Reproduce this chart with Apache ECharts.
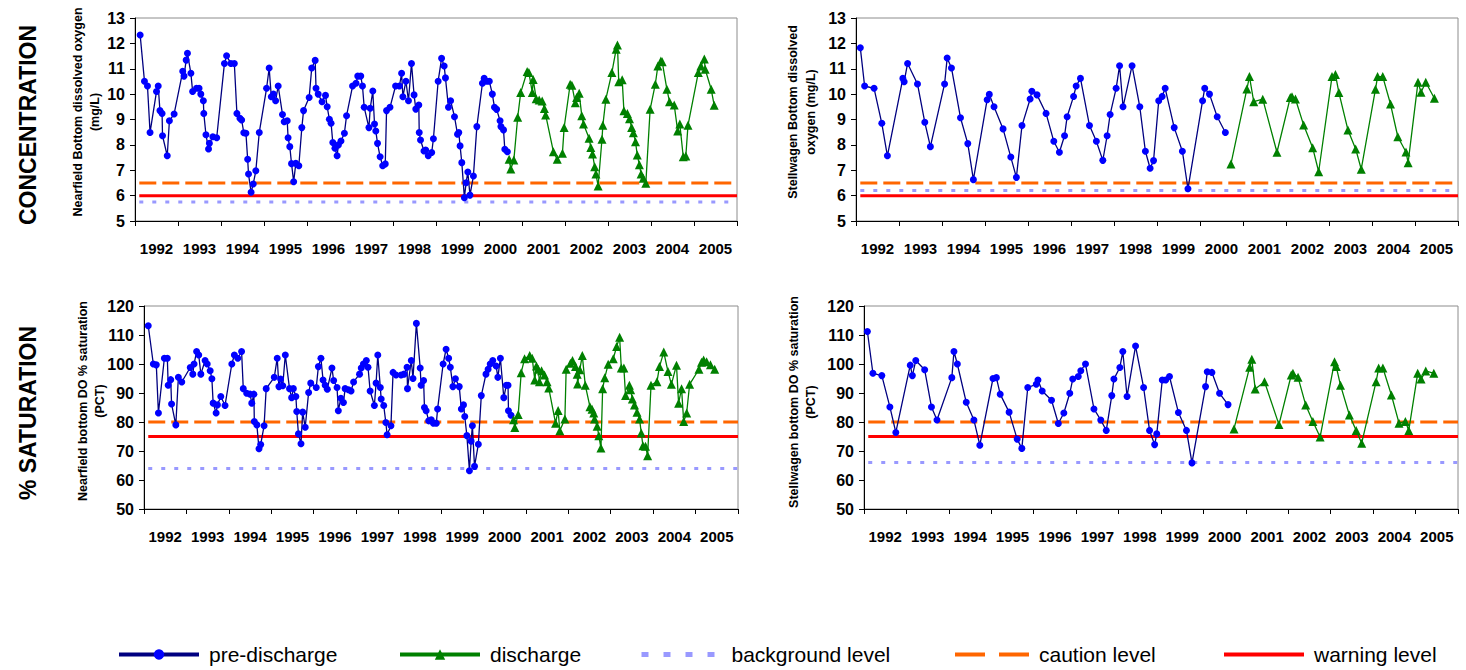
<!DOCTYPE html>
<html><head><meta charset="utf-8">
<script src="https://cdn.jsdelivr.net/npm/echarts@6/dist/echarts.min.js"></script>
<style>html,body{margin:0;padding:0;background:#fff;}#chart{width:1466px;height:670px;}</style>
</head><body><div id="chart"></div>
<script>
// ---------- tick labels ----------
const yearLabels = ['1992','1993','1994','1995','1996','1997','1998','1999','2000','2001','2002','2003','2004','2005'];

// ---------- Nearfield concentration (mg/L) ----------
const nfConcPreYears = [1992.12,1992.22,1992.29,1992.35,1992.50,1992.54,1992.58,1992.63,1992.64,1992.75,1992.80,1992.91,
1993.11,1993.14,1993.19,1993.22,1993.30,1993.34,1993.43,1993.49,1993.53,1993.59,1993.60,1993.65,1993.71,1993.73,1993.81,1993.90,
1994.08,1994.13,1994.23,1994.31,1994.37,1994.44,1994.48,1994.53,1994.58,1994.62,1994.64,1994.70,1994.75,1994.81,1994.89,
1995.06,1995.12,1995.17,1995.22,1995.27,1995.33,1995.43,1995.47,1995.54,1995.56,1995.60,1995.64,1995.69,1995.74,1995.81,1995.88,1995.92,
1996.05,1996.11,1996.19,1996.21,1996.26,1996.35,1996.43,1996.47,1996.52,1996.56,1996.60,1996.65,1996.70,1996.73,1996.79,1996.87,1996.92,
1997.06,1997.14,1997.18,1997.25,1997.29,1997.33,1997.44,1997.47,1997.53,1997.57,1997.60,1997.64,1997.70,1997.76,1997.82,1997.85,1997.93,
1998.06,1998.15,1998.20,1998.23,1998.30,1998.36,1998.43,1998.49,1998.53,1998.60,1998.61,1998.64,1998.72,1998.76,1998.82,1998.90,1998.94,
1999.05,1999.13,1999.19,1999.22,1999.29,1999.34,1999.43,1999.50,1999.53,1999.56,1999.60,1999.66,1999.70,1999.74,1999.79,1999.87,1999.95,
2000.08,2000.12,2000.18,2000.24,2000.31,2000.36,2000.41,2000.49,2000.51,2000.57,2000.60,2000.66];
const nfConcPreValues = [12.33,10.51,10.32,8.49,10.10,10.32,9.35,9.24,8.36,7.57,8.95,9.22,
10.90,10.71,11.34,11.61,10.82,10.10,10.23,10.23,10.00,9.74,9.24,8.40,7.84,8.06,8.32,8.28,
11.21,11.51,11.21,11.21,9.24,9.05,8.98,8.48,8.46,7.43,6.85,6.13,6.46,6.98,8.49,
10.23,11.03,9.90,10.00,9.74,10.32,9.20,8.91,8.95,8.28,7.93,7.26,6.55,7.27,7.18,8.68,9.35,
9.87,11.03,11.33,10.23,10.00,9.70,9.95,9.50,9.01,8.85,8.09,7.87,7.57,8.00,8.15,8.46,9.15,
10.32,10.43,10.71,10.71,10.32,9.48,8.68,9.44,10.12,8.82,8.55,8.06,7.53,7.18,7.25,9.35,9.48,
10.32,10.32,10.82,9.90,10.51,9.74,11.21,9.97,9.41,9.57,8.49,8.19,7.76,7.80,7.57,7.70,8.24,
10.51,11.41,11.11,10.64,9.48,9.74,9.11,8.42,8.49,7.96,7.30,5.92,6.51,6.93,6.02,6.77,8.72,
10.43,10.62,10.51,10.51,10.00,9.48,9.40,8.95,8.72,8.59,7.83,7.73];
const nfConcDisYears = [2000.70,2000.74,2000.81,2000.90,2000.97,
2001.12,2001.16,2001.24,2001.26,2001.33,2001.40,2001.47,2001.52,2001.55,2001.73,2001.82,2001.94,2001.98,
2002.12,2002.16,2002.24,2002.27,2002.33,2002.39,2002.43,2002.56,2002.60,2002.64,2002.69,2002.72,2002.77,2002.86,2002.88,2002.95,
2003.09,2003.19,2003.22,2003.25,2003.33,2003.37,2003.45,2003.50,2003.55,2003.59,2003.64,2003.68,2003.73,2003.77,2003.82,2003.88,2003.98,
2004.10,2004.16,2004.23,2004.26,2004.37,2004.43,2004.54,2004.62,2004.67,2004.75,2004.81,2004.86,
2005.10,2005.16,2005.24,2005.26,2005.40,2005.47];
const nfConcDisValues = [7.43,7.05,7.40,9.09,10.06,
10.89,10.85,10.06,10.58,9.82,9.77,9.73,9.43,9.18,7.73,7.43,7.67,8.68,
10.39,10.35,9.66,9.87,10.03,9.15,8.82,8.26,7.90,7.64,7.14,6.85,6.38,8.22,8.77,9.80,
10.85,11.77,11.94,10.49,10.57,9.34,9.24,9.03,8.68,8.48,8.12,7.60,7.22,6.85,6.68,6.49,9.40,
10.39,11.11,11.31,11.28,10.19,9.70,9.57,8.55,8.82,7.53,7.56,8.77,
10.85,11.11,11.38,10.98,10.19,9.56];

// ---------- Stellwagen concentration (mg/L) ----------
const swConcPreYears = [1992.10,1992.20,1992.42,1992.60,1992.73,
1993.09,1993.12,1993.20,1993.43,1993.60,1993.73,
1994.06,1994.12,1994.22,1994.43,1994.60,1994.73,
1995.05,1995.10,1995.21,1995.42,1995.60,1995.73,1995.86,
1996.05,1996.09,1996.21,1996.42,1996.60,1996.73,1996.85,1996.91,
1997.06,1997.12,1997.22,1997.43,1997.59,1997.74,1997.84,1997.91,
1998.05,1998.13,1998.21,1998.42,1998.60,1998.73,1998.84,1998.92,
1999.04,1999.12,1999.19,1999.40,1999.59,1999.72,
2000.06,2000.11,2000.22,2000.40,2000.59];
const swConcPreValues = [11.83,10.32,10.23,8.85,7.57,
10.62,10.49,11.21,10.40,8.89,7.93,
10.40,11.42,11.03,9.07,8.05,6.63,
9.78,9.99,9.50,8.63,7.52,6.72,8.76,
9.81,10.11,9.97,9.24,8.14,7.71,8.36,9.11,
9.91,10.32,10.62,8.76,8.14,7.39,8.36,9.20,
10.23,11.12,9.50,11.12,9.50,7.75,7.08,7.38,
9.74,9.91,10.23,8.68,7.75,6.27,
9.74,10.23,10.00,9.11,8.49];
const swConcDisYears = [2000.72,
2001.09,2001.15,2001.25,2001.46,2001.79,
2002.10,2002.14,2002.22,2002.41,2002.62,2002.76,
2003.07,2003.15,2003.23,2003.44,2003.62,2003.75,
2004.08,2004.13,2004.25,2004.43,2004.60,2004.79,2004.84,
2005.07,2005.14,2005.25,2005.45];
const swConcDisValues = [7.25,
10.20,10.69,9.70,9.80,7.71,
9.87,9.90,9.81,8.78,7.89,6.94,
10.69,10.77,10.06,8.59,7.84,7.04,
10.19,10.69,10.69,9.61,8.32,7.72,7.30,
10.47,10.07,10.47,9.84];

// ---------- Nearfield % saturation ----------
const nfSatPreYears = [1992.10,1992.22,1992.29,1992.34,1992.48,1992.55,1992.57,1992.63,1992.65,1992.75,1992.81,1992.89,
1993.09,1993.15,1993.18,1993.24,1993.29,1993.34,1993.44,1993.49,1993.56,1993.60,1993.63,1993.70,1993.73,1993.81,1993.91,
1994.07,1994.13,1994.21,1994.30,1994.34,1994.42,1994.50,1994.54,1994.59,1994.60,1994.66,1994.71,1994.75,1994.83,1994.88,
1995.07,1995.14,1995.18,1995.22,1995.27,1995.33,1995.43,1995.48,1995.52,1995.58,1995.60,1995.64,1995.70,1995.74,1995.80,1995.88,1995.93,
1996.06,1996.11,1996.17,1996.22,1996.27,1996.32,1996.43,1996.47,1996.55,1996.58,1996.64,1996.70,1996.74,1996.82,1996.88,1996.94,
1997.08,1997.12,1997.17,1997.24,1997.28,1997.33,1997.43,1997.47,1997.51,1997.57,1997.59,1997.65,1997.70,1997.73,1997.82,1997.87,1997.94,
1998.06,1998.13,1998.20,1998.21,1998.30,1998.34,1998.42,1998.51,1998.53,1998.59,1998.61,1998.65,1998.71,1998.77,1998.82,1998.89,1998.92,
1999.05,1999.12,1999.18,1999.22,1999.28,1999.34,1999.43,1999.48,1999.53,1999.56,1999.61,1999.67,1999.71,1999.74,1999.79,1999.88,1999.95,
2000.06,2000.11,2000.16,2000.22,2000.30,2000.34,2000.40,2000.48,2000.54,2000.58,2000.59,2000.65];
const nfSatPreValues = [113.2,100.0,99.7,83.1,102.0,102.0,92.7,94.6,86.2,79.0,95.4,93.8,
98.8,96.5,100.0,104.3,103.1,96.5,101.2,100.0,97.7,94.9,86.5,83.1,85.9,88.8,85.7,
100.0,103.1,102.0,104.3,91.5,89.9,89.6,86.5,89.6,80.2,79.0,70.8,72.2,78.7,91.5,
95.4,102.0,92.2,94.8,92.5,103.1,91.5,88.4,91.5,88.8,83.6,75.9,72.5,83.4,78.2,90.2,93.4,
91.9,99.1,102.0,94.5,92.7,91.3,98.6,94.3,91.9,83.9,88.2,86.7,91.5,91.1,90.7,93.8,
96.5,98.6,100.0,101.2,98.9,90.7,85.7,93.4,103.1,91.9,87.9,85.7,79.8,75.6,78.7,97.1,96.2,
96.2,96.5,98.9,91.5,101.2,95.0,114.0,98.6,92.7,94.3,85.0,83.9,80.4,80.8,79.6,79.6,84.5,
100.0,105.1,102.0,98.9,92.2,94.9,92.2,84.5,85.9,81.9,75.3,63.2,73.4,78.7,64.7,72.3,89.1,
96.5,98.2,100.0,101.2,99.3,95.4,102.0,88.4,92.7,92.7,83.9,82.3];
const nfSatDisYears = [2000.71,2000.74,2000.82,2000.89,2000.97,
2001.09,2001.15,2001.21,2001.25,2001.29,2001.32,2001.37,2001.44,2001.50,2001.54,2001.70,2001.76,2001.80,2001.92,2001.95,
2002.05,2002.10,2002.17,2002.21,2002.22,2002.27,2002.33,2002.40,2002.51,2002.56,2002.60,2002.62,2002.68,2002.72,2002.77,2002.81,2002.86,2002.94,
2003.06,2003.14,2003.21,2003.25,2003.31,2003.35,2003.44,2003.47,2003.51,2003.56,2003.62,2003.68,2003.72,2003.76,2003.82,2003.87,2003.95,
2004.09,2004.15,2004.25,2004.35,2004.43,2004.55,2004.60,2004.67,2004.72,2004.79,2004.86,
2005.08,2005.14,2005.19,2005.26,2005.35,2005.45];
const nfSatDisValues = [80.8,78.1,82.6,97.0,101.8,
102.9,102.0,94.5,99.3,98.2,93.9,97.7,96.2,93.9,91.7,79.6,84.0,77.0,81.0,98.2,
100.3,101.2,99.1,96.5,93.1,98.0,102.9,92.7,85.3,84.4,83.1,81.0,78.5,75.3,71.0,91.5,95.3,99.9,
101.8,106.0,109.2,98.6,98.6,89.1,92.7,91.1,87.9,85.9,83.4,81.0,76.2,71.8,71.6,68.4,92.7,
93.9,99.1,104.1,97.4,93.0,99.6,86.5,91.5,80.2,83.1,93.0,
98.2,100.6,101.4,100.8,99.7,98.2];

// ---------- Stellwagen % saturation ----------
const swSatPreYears = [1992.08,1992.21,1992.42,1992.61,1992.75,
1993.09,1993.14,1993.22,1993.43,1993.59,1993.72,
1994.07,1994.12,1994.20,1994.41,1994.59,1994.73,
1995.04,1995.12,1995.21,1995.42,1995.61,1995.72,1995.86,
1996.06,1996.10,1996.20,1996.42,1996.58,1996.71,1996.85,1996.92,
1997.05,1997.11,1997.22,1997.42,1997.58,1997.71,1997.84,1997.89,
1998.03,1998.10,1998.20,1998.40,1998.59,1998.73,1998.85,1998.90,
1999.03,1999.11,1999.20,1999.41,1999.60,1999.73,
2000.05,2000.09,2000.20,2000.38,2000.58];
const swSatPreValues = [111.2,96.8,96.0,85.2,76.4,
99.6,96.0,101.2,98.0,85.2,80.7,
95.3,104.3,100.0,86.8,80.7,72.0,
95.0,95.3,89.6,83.4,74.1,70.9,91.9,
93.0,94.5,90.7,87.5,79.5,83.1,89.9,94.8,
95.7,97.7,100.0,84.5,80.7,77.1,89.1,94.8,
98.8,104.3,88.8,106.2,91.9,77.1,72.2,75.9,
94.5,94.5,95.7,83.3,77.1,65.9,
92.2,97.3,97.1,89.9,86.0];
const swSatDisYears = [2000.72,
2001.09,2001.14,2001.22,2001.44,2001.78,
2002.07,2002.11,2002.23,2002.41,2002.58,2002.75,
2003.09,2003.13,2003.23,2003.44,2003.60,2003.73,
2004.07,2004.13,2004.23,2004.43,2004.61,2004.76,2004.84,
2005.05,2005.13,2005.24,2005.43];
const swSatDisValues = [77.6,
98.9,101.6,91.4,93.9,79.1,
96.2,96.8,95.4,85.9,80.2,74.8,
100.8,99.1,92.7,82.4,77.1,72.7,
93.9,98.6,98.6,89.3,79.6,80.2,77.1,
96.8,94.8,97.6,96.8];

// ---------- reference levels: [background, caution, warning] ----------
const levelNames = ['background level', 'caution level', 'warning level'];
const nfConcLevels = [5.75, 6.5, 6.0];
const swConcLevels = [6.2, 6.5, 6.0];
const nfSatLevels = [64, 80, 75];
const swSatLevels = [66, 80, 75];
const levelSpan = [1992.1, 2006];

// ---------- build chart ----------
const FONT = '"Liberation Sans", Arial, sans-serif';
const pairs = (xs, ys) => xs.map((x, i) => [x, ys[i]]);

const grids = [
  {left: 135, top: 18, width: 602, height: 203},
  {left: 856, top: 18, width: 602, height: 203},
  {left: 144, top: 306, width: 594, height: 203},
  {left: 864, top: 306, width: 594, height: 203}
].map(g => Object.assign(g, {show: true, borderColor: '#8c8c8c', borderWidth: 1, containLabel: false, outerBoundsMode: 'none'}));

const yRanges = [[5, 13, 1], [5, 13, 1], [50, 120, 10], [50, 120, 10]];
const panels = [
  {pre: pairs(nfConcPreYears, nfConcPreValues), dis: pairs(nfConcDisYears, nfConcDisValues), levels: nfConcLevels},
  {pre: pairs(swConcPreYears, swConcPreValues), dis: pairs(swConcDisYears, swConcDisValues), levels: swConcLevels},
  {pre: pairs(nfSatPreYears, nfSatPreValues), dis: pairs(nfSatDisYears, nfSatDisValues), levels: nfSatLevels},
  {pre: pairs(swSatPreYears, swSatPreValues), dis: pairs(swSatDisYears, swSatDisValues), levels: swSatLevels}
];

const blackLine = {show: true, lineStyle: {color: '#000', width: 1}};
const xAxes = [];
const yAxes = [];
grids.forEach((g, i) => {
  xAxes.push({type: 'value', gridIndex: i, min: 1992, max: 2006, interval: 1,
    axisLine: blackLine, axisTick: {show: true, length: 5, inside: false, lineStyle: {color: '#000'}},
    axisLabel: {show: false}, splitLine: {show: false}});
  yAxes.push({type: 'value', gridIndex: i, min: yRanges[i][0], max: yRanges[i][1], interval: yRanges[i][2],
    axisLine: blackLine, axisTick: {show: true, length: 5, inside: false, lineStyle: {color: '#000'}},
    axisLabel: {margin: 10, color: '#000', fontSize: 16, fontWeight: 'bold', fontFamily: FONT},
    splitLine: {show: false}});
});
grids.forEach((g, i) => {
  xAxes.push({type: 'category', gridIndex: i, data: yearLabels, boundaryGap: true, position: 'bottom',
    axisLine: {show: false}, axisTick: {show: false}, splitLine: {show: false},
    axisLabel: {interval: 0, margin: 20, color: '#000', fontSize: 15, fontWeight: 'bold', fontFamily: FONT}});
});

const levelStyles = [
  {color: '#9999ff', width: 3, type: [4, 9]},
  {color: '#ff6600', width: 3, type: [17, 6]},
  {color: '#ff0000', width: 3, type: 'solid'}
];

const series = [];
panels.forEach((p, i) => {
  levelNames.forEach((name, k) => {
    series.push({name, type: 'line', xAxisIndex: i, yAxisIndex: i, symbol: 'none', silent: true, z: 2,
      data: levelSpan.map(x => [x, p.levels[k]]),
      lineStyle: levelStyles[k], itemStyle: {color: levelStyles[k].color}});
  });
});
panels.forEach((p, i) => {
  series.push({name: 'pre-discharge', type: 'line', xAxisIndex: i, yAxisIndex: i, data: p.pre, z: 3,
    symbol: 'circle', symbolSize: 7, showAllSymbol: true,
    lineStyle: {color: '#000080', width: 1.3}, itemStyle: {color: '#0000ff'}});
  series.push({name: 'discharge', type: 'line', xAxisIndex: i, yAxisIndex: i, data: p.dis, z: 3,
    symbol: 'triangle', symbolSize: 9, showAllSymbol: true,
    lineStyle: {color: '#008000', width: 1.3}, itemStyle: {color: '#008000'}});
});

const legendText = {fontSize: 21, color: '#000', fontFamily: FONT, padding: [0, 0, 0, 5]};
const legendBase = {top: 644, padding: 0, itemHeight: 13, selectedMode: false, textStyle: legendText};
const hideSymbol = {opacity: 0};
const legends = [
  Object.assign({}, legendBase, {data: ['pre-discharge'], left: 117, itemWidth: 80, lineStyle: {width: 4}}),
  Object.assign({}, legendBase, {data: ['discharge'], left: 398, itemWidth: 80, lineStyle: {width: 4}}),
  Object.assign({}, legendBase, {data: ['background level'], left: 639, itemWidth: 80, itemStyle: hideSymbol, lineStyle: {width: 5, type: [7, 15]}}),
  Object.assign({}, legendBase, {data: ['caution level'], left: 953, itemWidth: 74, itemStyle: hideSymbol, lineStyle: {width: 4, type: [30, 14]}}),
  Object.assign({}, legendBase, {data: ['warning level'], left: 1222, itemWidth: 80, itemStyle: hideSymbol, lineStyle: {width: 4}})
];

function vText(x, y, text, font, lineHeight) {
  return {type: 'text', x, y, rotation: Math.PI / 2, silent: true,
    style: {text, font, align: 'center', verticalAlign: 'middle', fill: '#000', lineHeight}};
}
const nameFont = 'bold 12.5px ' + FONT;
const bigFont = 'bold 23px ' + FONT;
const graphics = [
  vText(28, 125, 'CONCENTRATION', bigFont, 26),
  vText(28, 413, '% SATURATION', bigFont, 26),
  vText(86, 112, 'Nearfield Bottom dissolved oxygen\n(mg/L)', nameFont, 17),
  vText(802, 112, 'Stellwagen Bottom dissolved\noxygen (mg/L)', nameFont, 18),
  vText(91, 401, 'Nearfield bottom DO % saturation\n(PCT)', nameFont, 17),
  vText(802, 402, 'Stellwagen bottom DO % saturation\n(PCT)', nameFont, 17)
];

const chart = echarts.init(document.getElementById('chart'), null, {renderer: 'svg'});
chart.setOption({
  animation: false,
  backgroundColor: '#ffffff',
  grid: grids,
  xAxis: xAxes,
  yAxis: yAxes,
  legend: legends,
  graphic: graphics,
  series
});
</script></body></html>
